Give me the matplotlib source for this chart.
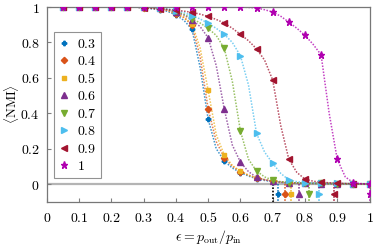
import numpy as np
import matplotlib
matplotlib.use("Agg")
import matplotlib.pyplot as plt
from matplotlib.lines import Line2D
from matplotlib.ticker import FuncFormatter

plt.rcParams['mathtext.fontset'] = 'cm'
plt.rcParams['font.family'] = ['DejaVu Serif']

eps = [0.0, 0.025, 0.05, 0.075, 0.1, 0.125, 0.15, 0.175, 0.2, 0.225, 0.25, 0.275,
       0.3, 0.325, 0.35, 0.375, 0.4, 0.425, 0.45, 0.475, 0.5, 0.525, 0.55, 0.575,
       0.6, 0.625, 0.65, 0.675, 0.7, 0.725, 0.75, 0.775, 0.8, 0.825, 0.85, 0.875,
       0.9, 0.925, 0.95, 0.975, 1.0]

ones12 = [1.0] * 12
nmi_03 = ones12 + [0.995, 0.99, 0.985, 0.975, 0.955, 0.925, 0.874, 0.66, 0.367, 0.2, 0.13, 0.09,
                   0.065, 0.045, 0.03, 0.02, 0.013, 0.01, 0.007, 0.006, 0.005, 0.004, 0.003, 0.003,
                   0.002, 0.002, 0.001, 0.001, 0.0]
nmi_04 = ones12 + [0.997, 0.993, 0.99, 0.98, 0.96, 0.94, 0.898, 0.72, 0.426, 0.24, 0.149, 0.1,
                   0.07, 0.05, 0.034, 0.024, 0.016, 0.011, 0.008, 0.006, 0.004, 0.004, 0.003, 0.003,
                   0.002, 0.002, 0.001, 0.001, 0.0]
nmi_05 = ones12 + [0.997, 0.994, 0.99, 0.982, 0.965, 0.945, 0.905, 0.77, 0.53, 0.28, 0.164, 0.105,
                   0.073, 0.05, 0.035, 0.025, 0.016, 0.011, 0.008, 0.006, 0.004, 0.004, 0.003, 0.003,
                   0.002, 0.002, 0.001, 0.001, 0.0]
nmi_06 = ones12 + [0.998, 0.995, 0.992, 0.985, 0.97, 0.955, 0.927, 0.89, 0.827, 0.67, 0.424, 0.22,
                   0.124, 0.07, 0.038, 0.024, 0.015, 0.01, 0.006, 0.004, 0.003, 0.003, 0.002, 0.002,
                   0.002, 0.001, 0.001, 0.001, 0.0]
nmi_07 = ones12 + [0.998, 0.996, 0.993, 0.987, 0.975, 0.96, 0.935, 0.91, 0.88, 0.84, 0.767, 0.58,
                   0.30, 0.14, 0.073, 0.04, 0.022, 0.013, 0.008, 0.006, 0.004, 0.003, 0.003, 0.002,
                   0.002, 0.001, 0.001, 0.001, 0.0]
nmi_08 = ones12 + [0.999, 0.997, 0.995, 0.99, 0.98, 0.968, 0.952, 0.933, 0.908, 0.88, 0.846, 0.80,
                   0.725, 0.56, 0.286, 0.18, 0.117, 0.06, 0.023, 0.013, 0.008, 0.006, 0.004, 0.003,
                   0.003, 0.002, 0.001, 0.001, 0.0]
nmi_09 = ones12 + [0.995, 0.993, 0.99, 0.986, 0.982, 0.977, 0.97, 0.96, 0.947, 0.93, 0.91, 0.88,
                   0.846, 0.81, 0.764, 0.70, 0.588, 0.33, 0.14, 0.065, 0.028, 0.016, 0.01, 0.007,
                   0.005, 0.003, 0.002, 0.001, 0.0]
nmi_10 = ones12 + [1.0, 1.0, 1.0, 1.0, 1.0, 1.0, 1.0, 1.0, 1.0, 1.0, 1.0, 1.0,
                   1.0, 0.998, 0.995, 0.985, 0.972, 0.948, 0.915, 0.88, 0.84, 0.79, 0.73, 0.40,
                   0.14, 0.04, 0.007, 0.002, 0.0]

labels = ['0.3', '0.4', '0.5', '0.6', '0.7', '0.8', '0.9', '1']
thresholds = [0.718, 0.737, 0.758, 0.781, 0.811, 0.845, 0.889, 1.0]
black_threshold = 0.7

series = [nmi_03, nmi_04, nmi_05, nmi_06, nmi_07, nmi_08, nmi_09, nmi_10]
colors = ['#0072BD', '#D95319', '#EDB120', '#7E2F8E', '#77AC30', '#4DBEEE', '#A2142F', '#B000B0']
markers = ['P', 'D', 's', '^', 'v', '>', '<', '*']
msizes = [3.2, 3.2, 2.4, 4.0, 4.0, 4.0, 4.0, 5.2]
mark_idx = list(range(2, 41, 2))

fig = plt.figure(figsize=(3.74, 2.47), dpi=100)
ax = fig.add_axes([0.125, 0.1834, 0.863, 0.788])

ax.axhline(0, color='#b4b4b4', lw=1.6, zorder=1)

for y, c, m, ms in zip(series, colors, markers, msizes):
    ax.plot(eps, y, linestyle=(0, (1, 1)), lw=1.1, color=c, alpha=0.75, zorder=2)
    ax.plot(eps, y, linestyle='none', marker=m, ms=ms, color=c, markevery=mark_idx, zorder=3)

ax.plot([black_threshold, black_threshold], [0, -0.1], linestyle=(0, (1, 1)), lw=1.2, color='black', zorder=2)
for t, c, m, ms in zip(thresholds, colors, markers, msizes):
    ax.plot([t, t], [0, -0.1], linestyle=(0, (1, 1)), lw=1.1, color=c, zorder=2)
    ax.plot([t], [-0.055], linestyle='none', marker=m, ms=ms, color=c, zorder=3)

ax.set_xlim(0, 1)
ax.set_ylim(-0.1, 1)
ax.set_xticks(np.arange(0, 1.01, 0.1))
ax.set_yticks(np.arange(0, 1.01, 0.2))

def fmt(v, pos):
    s = ('%.1f' % v).rstrip('0').rstrip('.') if abs(v - round(v)) > 1e-9 else '%d' % round(v)
    return '$' + s + '$'

ax.xaxis.set_major_formatter(FuncFormatter(fmt))
ax.yaxis.set_major_formatter(FuncFormatter(fmt))
ax.tick_params(direction='in', length=3, color='#808080', labelsize=10, pad=5)
ax.tick_params(axis='x', pad=7)
for sp in ax.spines.values():
    sp.set_color('#777777')
    sp.set_linewidth(0.9)

ax.set_xlabel(r'$\epsilon = p_{\rm out}/p_{\rm in}$', fontsize=10, labelpad=2)
ax.set_ylabel(r'$\langle \mathrm{NMI} \rangle$', fontsize=9.5, labelpad=0)
ax.yaxis.set_label_coords(-0.08, 0.5)

handles = [Line2D([], [], linestyle='none', marker=m, color=c, ms=ms)
           for c, m, ms in zip(colors, markers, msizes)]
leg = ax.legend(handles, ['$' + l + '$' for l in labels], loc='upper left',
                bbox_to_anchor=(0.022, 0.872), fontsize=10, frameon=True, fancybox=False,
                handlelength=0.8, handletextpad=0.5, labelspacing=0.25, borderpad=0.35,
                borderaxespad=0)
leg.get_frame().set_edgecolor('#777777')
leg.get_frame().set_linewidth(0.8)

fig.savefig('out.png', dpi=100)
